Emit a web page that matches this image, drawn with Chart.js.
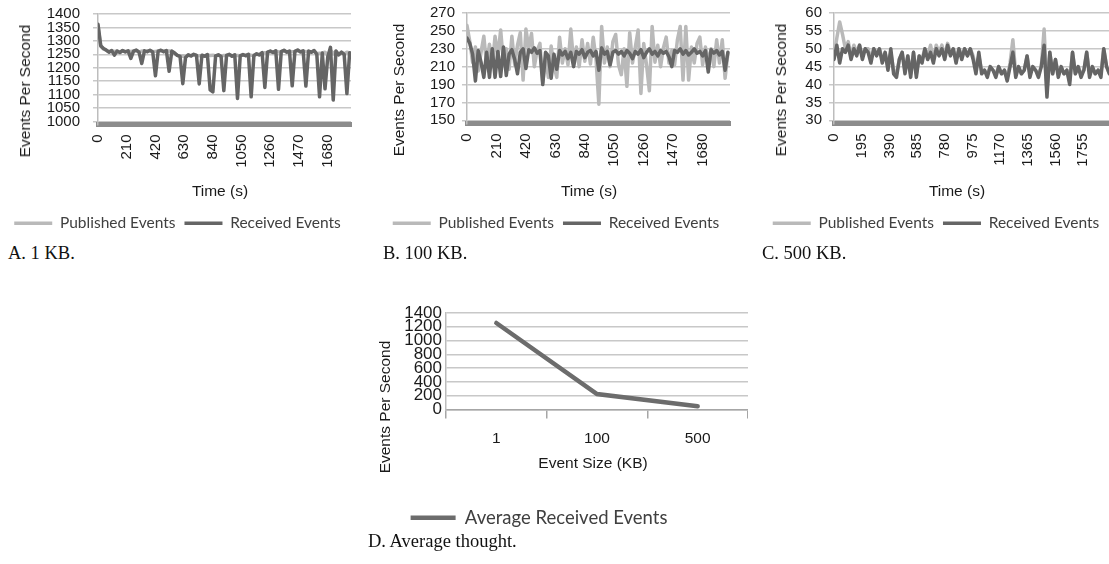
<!DOCTYPE html>
<html>
<head>
<meta charset="utf-8">
<title>Events per second</title>
<script src="https://cdn.jsdelivr.net/npm/chart.js@4.4.1/dist/chart.umd.min.js"></script>
<style>
  html, body { margin: 0; padding: 0; background: #fff; }
  body { position: relative; width: 1109px; height: 564px; overflow: hidden; }
  .box { position: absolute; }
  .title { position: absolute; font: 15.5px "Liberation Sans", Arial, sans-serif; color: #1a1a1a; white-space: nowrap; line-height: 18px; transform: translate(-50%, -50%); }
  .title.v { transform: translate(-50%, -50%) rotate(-90deg); }
  .caption { position: absolute; font: 18.5px "Liberation Serif", "Times New Roman", serif; color: #111; white-space: nowrap; line-height: 22px; }
</style>
</head>
<body>
<div class="box" style="left:0px;top:-10px;width:357px;height:251px"><canvas id="chartA"></canvas></div>
<div class="box" style="left:370px;top:-10px;width:366px;height:251px"><canvas id="chartB"></canvas></div>
<div class="box" style="left:742px;top:-10px;width:373px;height:251px"><canvas id="chartC"></canvas></div>
<div class="box" style="left:330px;top:290px;width:418px;height:247px"><canvas id="chartD"></canvas></div>

<div class="title v" style="left:25px;top:91px">Events Per Second</div>
<div class="title v" style="left:399px;top:90px">Events Per Second</div>
<div class="title v" style="left:781px;top:90px">Events Per Second</div>
<div class="title v" style="left:385px;top:407px">Events Per Second</div>

<div class="title" style="left:220px;top:191px">Time (s)</div>
<div class="title" style="left:589px;top:191px">Time (s)</div>
<div class="title" style="left:957px;top:191px">Time (s)</div>
<div class="title" style="left:593px;top:463px">Event Size (KB)</div>

<div class="caption" style="left:8px;top:242px">A. 1 KB.</div>
<div class="caption" style="left:383px;top:242px">B. 100 KB.</div>
<div class="caption" style="left:762px;top:242px">C. 500 KB.</div>
<div class="caption" style="left:368px;top:530px">D. Average thought.</div>

<script>
// one sample every 20 s
const sampleStep = 20;

// A. 1 KB
const receivedA = [
  1362, 1282, 1272, 1266, 1258, 1264, 1247, 1262, 1257, 1264,
  1259, 1263, 1235, 1262, 1266, 1258, 1216, 1263, 1260, 1265,
  1259, 1170, 1262, 1265, 1260, 1264, 1187, 1262, 1255, 1246,
  1242, 1141, 1238, 1248, 1244, 1250, 1246, 1140, 1247, 1243,
  1249, 1118, 1110, 1244, 1248, 1242, 1115, 1246, 1250, 1243,
  1248, 1086, 1244, 1249, 1245, 1250, 1092, 1246, 1252, 1248,
  1256, 1127, 1258, 1262, 1257, 1263, 1120, 1260, 1265, 1258,
  1262, 1133, 1261, 1266, 1259, 1263, 1132, 1262, 1258, 1264,
  1250, 1092, 1255, 1122, 1240, 1276, 1080, 1262, 1248, 1258,
  1250, 1104, 1256
];
const publishedA = [
  1355, 1280, 1270, 1265, 1260, 1263, 1261, 1262, 1258, 1263,
  1260, 1262, 1261, 1262, 1264, 1259, 1262, 1262, 1260, 1264,
  1260, 1261, 1262, 1264, 1260, 1263, 1262, 1261, 1254, 1246,
  1243, 1244, 1240, 1247, 1244, 1249, 1246, 1245, 1246, 1243,
  1248, 1246, 1247, 1244, 1247, 1243, 1246, 1246, 1249, 1244,
  1247, 1246, 1245, 1248, 1245, 1249, 1247, 1246, 1251, 1248,
  1255, 1256, 1257, 1261, 1257, 1262, 1259, 1260, 1264, 1258,
  1261, 1260, 1260, 1265, 1259, 1262, 1260, 1261, 1258, 1263,
  1252, 1254, 1255, 1258, 1246, 1266, 1252, 1261, 1249, 1257,
  1251, 1258, 1255
];

// B. 100 KB
const receivedB = [
  242, 236, 224, 194, 228, 215, 198, 226, 198, 230,
  198, 227, 199, 232, 200, 224, 229, 218, 202, 226,
  230, 208, 229, 226, 231, 225, 228, 190, 226, 222,
  197, 224, 207, 228, 223, 227, 219, 226, 210, 227,
  224, 229, 220, 226, 228, 222, 227, 206, 231, 224,
  227, 212, 226, 228, 224, 227, 222, 228, 225, 219,
  227, 224, 229, 220, 226, 230, 224, 227, 222, 228,
  225, 227, 221, 210, 228, 226, 230, 224, 228, 223,
  226, 230, 225, 227, 222, 228, 204, 229, 225, 228,
  223, 227, 206, 226
];
const publishedB = [
  256, 238, 215, 232, 205, 226, 244, 212, 235, 210,
  244, 222, 251, 214, 230, 207, 244, 212, 234, 248,
  195, 252, 231, 247, 210, 228, 236, 192, 220, 198,
  233, 210, 198, 243, 214, 230, 212, 252, 215, 232,
  210, 240, 216, 236, 213, 243, 218, 168, 255, 214,
  232, 210, 238, 246, 212, 201, 230, 188, 248, 214,
  232, 251, 180, 236, 212, 183, 255, 215, 234, 210,
  231, 243, 214, 228, 212, 240, 255, 195, 255, 195,
  232, 214, 236, 243, 212, 232, 216, 230, 210, 240,
  214, 240, 197, 225
];

// C. 500 KB
const receivedC = [
  47, 51, 46, 50, 49, 51, 47, 50, 48, 51,
  47, 50, 49, 46, 50, 48, 50, 46, 49, 44,
  50, 43, 42, 47, 49, 43, 48, 42, 49, 42,
  48, 46, 50, 47, 49, 46, 50, 48, 50, 47,
  51, 48, 50, 46, 50, 47, 50, 48, 50, 47,
  43, 49, 43, 44, 42, 45, 44, 42, 45, 43,
  44, 41, 45, 49, 42, 45, 43, 44, 48, 42,
  45, 44, 42, 45, 51, 36.5, 49, 43, 47, 42,
  45, 43, 44, 40, 49, 43, 45, 42, 44, 49,
  42, 45, 43, 44, 42, 50, 45, 43
];
const publishedC = [
  48, 53, 57.5, 54, 50, 52, 48, 51, 49, 51,
  48, 50, 50, 47, 50, 49, 50, 47, 49, 45,
  49, 44, 43, 47, 49, 44, 48, 43, 49, 43,
  48, 47, 50, 48, 51, 47, 51, 49, 51, 48,
  51.5, 49, 50, 47, 50, 48, 50, 48, 50, 48,
  44, 48, 44, 44, 43, 45, 44, 43, 45, 43,
  44, 42, 46, 52.5, 43, 45, 43, 44, 48, 43,
  45, 44, 43, 45, 55.5, 38, 49, 43, 47, 43,
  45, 43, 44, 41, 49, 43, 45, 43, 44, 49,
  43, 45, 43, 44, 43, 50, 45, 43
];

// D. average
const eventSizes = ["1", "100", "500"];
const avgReceived = [1255, 225, 46];

// tick labels
const xTicksAB = [0, 210, 420, 630, 840, 1050, 1260, 1470, 1680];
const xTicksC = [0, 195, 390, 585, 780, 975, 1170, 1365, 1560, 1755];
const yTicksA = [1000, 1050, 1100, 1150, 1200, 1250, 1300, 1350, 1400];
const yTicksB = [150, 170, 190, 210, 230, 250, 270];
const yTicksC = [30, 35, 40, 45, 50, 55, 60];
const yTicksD = [0, 200, 400, 600, 800, 1000, 1200, 1400];

const receivedColor = "#656565";
const publishedColor = "#b9b9b9";
const barColor = "#8c8c8c";
const gridColor = "#c8c8c8";
const axisColor = "#bdbdbd";
const textColor = "#1a1a1a";
const legendColor = "#404040";
const sansFamily = "'Liberation Sans', Arial, sans-serif";
const legendFamily = "Lato, 'Open Sans', sans-serif";

Chart.defaults.font.family = sansFamily;

function fixedTicks(list) {
  return (scale) => {
    scale.ticks = list.map((value) => ({ value }));
  };
}

function timeChart(id, received, published, o) {
  const points = (arr) => arr.map((y, i) => ({ x: i * sampleStep, y }));
  return new Chart(document.getElementById(id), {
    type: "line",
    data: {
      datasets: [
        { label: "Received Events", data: points(received), borderColor: receivedColor, backgroundColor: receivedColor, borderWidth: 3.5 },
        { label: "Published Events", data: points(published), borderColor: publishedColor, backgroundColor: publishedColor, borderWidth: 3.5 },
      ],
    },
    options: {
      responsive: true,
      maintainAspectRatio: false,
      animation: false,
      layout: { padding: { left: o.padLeft, top: o.padTop, right: 6, bottom: 0 } },
      elements: {
        point: { radius: 0 },
        line: { tension: 0, borderJoinStyle: "round", borderCapStyle: "round" },
      },
      plugins: {
        tooltip: { enabled: false },
        legend: {
          position: "bottom",
          labels: {
            usePointStyle: true,
            pointStyle: "line",
            pointStyleWidth: 38,
            padding: 9,
            color: legendColor,
            font: { family: legendFamily, size: 15.5 },
            sort: (a, b) => b.datasetIndex - a.datasetIndex,
          },
        },
      },
      scales: {
        x: {
          type: "linear",
          min: 0,
          max: o.xMax,
          afterBuildTicks: fixedTicks(o.xTicks),
          afterFit: (s) => { s.height = o.xHeight; },
          grid: { display: false, drawTicks: false },
          border: { color: barColor, width: 5 },
          ticks: {
            autoSkip: false,
            minRotation: 90,
            maxRotation: 90,
            padding: 10,
            color: textColor,
            font: { size: 15 },
            callback: (v) => String(v),
          },
        },
        y: {
          min: o.yMin,
          max: o.yMax,
          afterBuildTicks: fixedTicks(o.yTicks),
          afterFit: (s) => { s.width = o.yWidth; },
          grid: { color: gridColor, lineWidth: 1.5, tickLength: 5 },
          border: { color: axisColor, width: 1.5 },
          ticks: {
            autoSkip: false,
            padding: o.yPad,
            color: textColor,
            font: { size: 15 },
            callback: (v) => String(v),
          },
        },
      },
    },
  });
}

timeChart("chartA", receivedA, publishedA, {
  padLeft: 4, padTop: 24, yWidth: 94, yPad: 13, xHeight: 82,
  xMax: 1850, xTicks: xTicksAB, yMin: 989, yMax: 1400, yTicks: yTicksA,
});
timeChart("chartB", receivedB, publishedB, {
  padLeft: 12, padTop: 23, yWidth: 85, yPad: 7, xHeight: 83,
  xMax: 1875, xTicks: xTicksAB, yMin: 146.4, yMax: 270, yTicks: yTicksB,
});
timeChart("chartC", receivedC, publishedC, {
  padLeft: 21, padTop: 23, yWidth: 71, yPad: 7, xHeight: 83,
  xMax: 1937, xTicks: xTicksC, yMin: 29.1, yMax: 60, yTicks: yTicksC,
});

new Chart(document.getElementById("chartD"), {
  type: "line",
  data: {
    labels: eventSizes,
    datasets: [
      { label: "Average Received Events", data: avgReceived, borderColor: "#6c6c6c", backgroundColor: "#6c6c6c", borderWidth: 4.5, borderCapStyle: "round" },
    ],
  },
  options: {
    responsive: true,
    maintainAspectRatio: false,
    animation: false,
    layout: { padding: { left: 0, top: 23, right: 0, bottom: 0 } },
    elements: { point: { radius: 0 }, line: { tension: 0 } },
    plugins: {
      tooltip: { enabled: false },
      legend: {
        position: "bottom",
        labels: {
          usePointStyle: true,
          pointStyle: "line",
          pointStyleWidth: 45,
          padding: 14,
          color: legendColor,
          font: { family: legendFamily, size: 18.5 },
        },
      },
    },
    scales: {
      x: {
        offset: true,
        afterFit: (s) => { s.height = 85; },
        grid: { offset: true, drawOnChartArea: false, tickLength: 9, color: "#a6a6a6", lineWidth: 1.5 },
        border: { color: "#a6a6a6", width: 1.5 },
        ticks: { padding: 11, color: textColor, font: { size: 15.5 } },
      },
      y: {
        min: 0,
        max: 1400,
        afterBuildTicks: fixedTicks(yTicksD),
        afterFit: (s) => { s.width = 116; },
        grid: { color: gridColor, lineWidth: 1.5, drawTicks: false },
        border: { color: axisColor, width: 1.5 },
        ticks: { autoSkip: false, padding: 4, color: textColor, font: { size: 17 }, callback: (v) => String(v) },
      },
    },
  },
});
</script>
</body>
</html>
